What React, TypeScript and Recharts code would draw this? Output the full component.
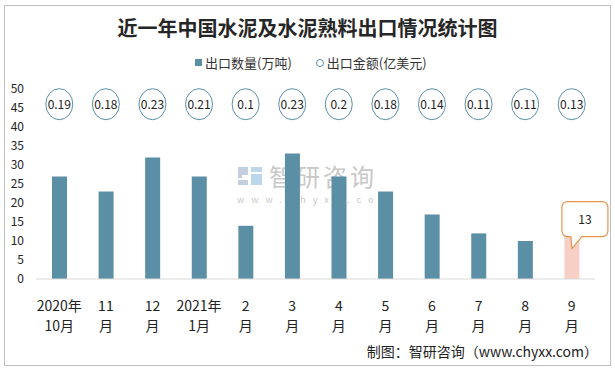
import React from "react";
import {
  ComposedChart,
  Bar,
  Line,
  Cell,
  XAxis,
  YAxis,
  LabelList,
} from "recharts";

// x-axis labels (two lines each)
const months = [
  "2020年\n10月",
  "11\n月",
  "12\n月",
  "2021年\n1月",
  "2\n月",
  "3\n月",
  "4\n月",
  "5\n月",
  "6\n月",
  "7\n月",
  "8\n月",
  "9\n月",
];
// 出口数量(万吨)
const volumes = [27, 23, 32, 27, 14, 33, 27, 23, 17, 12, 10, 13];
// 出口金额(亿美元)
const amounts = [0.19, 0.18, 0.23, 0.21, 0.1, 0.23, 0.2, 0.18, 0.14, 0.11, 0.11, 0.13];
const yTicks = [0, 5, 10, 15, 20, 25, 30, 35, 40, 45, 50];

const BAR_COLOR = "#5b8fa6";
const HIGHLIGHT = "#f8cfc4";
const CIRCLE_ROW = 46; // the amount badges sit on this level of the left axis

const data = months.map((m, i) => ({
  month: m,
  volume: volumes[i],
  amount: amounts[i],
  row: CIRCLE_ROW,
}));

const FONT = '"Noto Sans CJK SC", "Microsoft YaHei", sans-serif';

const MonthTick = ({ x, y, payload }: any) => {
  const lines = String(payload.value).split("\n");
  return (
    <g transform={`translate(${x},${y})`}>
      {lines.map((l, i) => (
        <text
          key={i}
          x={0}
          y={24 + i * 20}
          textAnchor="middle"
          fontSize={14}
          fill="#222"
          fontFamily={FONT}
        >
          {l}
        </text>
      ))}
    </g>
  );
};

const AmountBadge = ({ cx, cy, payload }: any) => (
  <g>
    <ellipse cx={cx} cy={cy} rx={13.5} ry={15.5} fill="#fff" stroke="#5b8fa6" strokeWidth={1} />
    <text x={cx} y={cy + 4.5} textAnchor="middle" fontSize={12} fill="#222" fontFamily={FONT}>
      {payload.amount}
    </text>
  </g>
);

const Callout = ({ x, y, width, value, index }: any) => {
  if (index !== volumes.length - 1) return null;
  const cx = x + width / 2;
  const left = cx - 10;
  const right = cx + 36;
  const top = y - 28;
  const bottom = y + 7;
  const r = 6;
  const path = [
    `M${left + r},${top}`,
    `H${right - r}`,
    `Q${right},${top} ${right},${top + r}`,
    `V${bottom - r}`,
    `Q${right},${bottom} ${right - r},${bottom}`,
    `H${cx + 10}`,
    `L${cx},${y + 19}`,
    `L${cx - 1},${bottom}`,
    `H${left + r}`,
    `Q${left},${bottom} ${left},${bottom - r}`,
    `V${top + r}`,
    `Q${left},${top} ${left + r},${top}`,
    "Z",
  ].join(" ");
  return (
    <g>
      <path d={path} fill="#fff" stroke="#e8944a" strokeWidth={1.2} />
      <text x={(left + right) / 2} y={(top + bottom) / 2 + 4.5} textAnchor="middle" fontSize={12} fill="#222" fontFamily={FONT}>
        {value}
      </text>
    </g>
  );
};

export default function App() {
  return (
    <div style={{ position: "absolute", left: 0, top: 0, width: 615, height: 372, background: "#fff", fontFamily: FONT }}>
      <div style={{ position: "absolute", left: 4, top: 5, width: 605, height: 359, border: "1px solid #bfbfbf" }} />
      <div
        style={{
          position: "absolute",
          left: 0,
          width: 615,
          top: 13,
          textAlign: "center",
          fontSize: 20,
          fontWeight: 700,
          color: "#262626",
        }}
      >
        近一年中国水泥及水泥熟料出口情况统计图
      </div>
      <div style={{ position: "absolute", left: 195, top: 53, fontSize: 13, color: "#333", display: "flex", alignItems: "center", whiteSpace: "nowrap" }}>
        <span style={{ display: "inline-block", width: 7, height: 7, background: BAR_COLOR, marginRight: 3 }} />
        <span>出口数量(万吨)</span>
        <span style={{ display: "inline-block", width: 6, height: 6, borderRadius: 4, border: "1px solid #5b8fa6", marginLeft: 24, marginRight: 3 }} />
        <span>出口金额(亿美元)</span>
      </div>
      {/* watermark */}
      <svg style={{ position: "absolute", left: 237, top: 166 }} width={26} height={20}>
        <path d="M1 1 H11 V9 H5 V12 H1 Z" fill="#c3cfe0" />
        <path d="M1 14 H11 V19 H1 Z" fill="#c3cfe0" />
        <path d="M14 1 H25 V6 H14 Z" fill="#bcd6ea" />
        <path d="M14 8 H25 V19 H14 Z" fill="#bcd6ea" />
      </svg>
      <div style={{ position: "absolute", left: 269, top: 162, color: "#c8c8c8", fontSize: 24, letterSpacing: 3, lineHeight: "28px" }}>
        智研咨询
      </div>
      <div style={{ position: "absolute", left: 237, top: 195, color: "#c8c8c8", fontSize: 9, letterSpacing: 7, lineHeight: "10px" }}>
        www.chyxx.com
      </div>
      <div style={{ position: "absolute", right: 17, top: 341, fontSize: 14, color: "#222" }}>
        制图：智研咨询（www.chyxx.com）
      </div>
      <div style={{ position: "absolute", left: 0, top: 0 }}>
        <ComposedChart
          width={615}
          height={372}
          data={data}
          margin={{ top: 89, right: 20, bottom: 48, left: 4 }}
        >
          <XAxis
            dataKey="month"
            interval={0}
            tick={<MonthTick />}
            tickLine={false}
            axisLine={{ stroke: "#d9d9d9" }}
            height={45}
          />
          <YAxis
            domain={[0, 50]}
            ticks={yTicks}
            interval={0}
            width={32}
            axisLine={false}
            tickLine={false}
            tickSize={0}
            tickMargin={12}
            tick={{ fontSize: 12, fill: "#222", fontFamily: FONT }}
          />
          <Bar dataKey="volume" barSize={15} isAnimationActive={false}>
            {data.map((d, i) => (
              <Cell key={d.month} fill={i === data.length - 1 ? HIGHLIGHT : BAR_COLOR} />
            ))}
            <LabelList dataKey="volume" content={<Callout />} />
          </Bar>
          <Line
            dataKey="row"
            stroke="none"
            dot={<AmountBadge />}
            activeDot={false}
            isAnimationActive={false}
          />
        </ComposedChart>
      </div>
    </div>
  );
}
